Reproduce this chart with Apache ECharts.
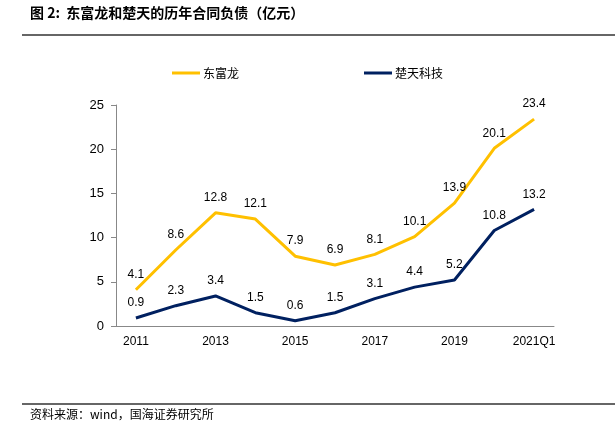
<!DOCTYPE html>
<html><head><meta charset="utf-8">
<script src="https://cdn.jsdelivr.net/npm/echarts@6/dist/echarts.min.js"></script>
<style>html,body{margin:0;padding:0;background:#fff}#c{width:615px;height:434px}</style>
</head><body><div id="c"></div>
<script>
var categories = ['2011','2012','2013','2014','2015','2016','2017','2018','2019','2020','2021Q1'];
var dongfulong = [4.1, 8.6, 12.8, 12.1, 7.9, 6.9, 8.1, 10.1, 13.9, 20.1, 23.4];
var chutian = [0.9, 2.3, 3.4, 1.5, 0.6, 1.5, 3.1, 4.4, 5.2, 10.8, 13.2];
var FONT = '"Liberation Sans", Arial, "Noto Sans CJK SC", sans-serif';
var chart = echarts.init(document.getElementById('c'));
chart.setOption({
  backgroundColor: '#fff',
  animation: false,
  textStyle: {fontFamily: FONT},
  graphic: [
    {type: 'text', left: 30, top: 6, style: {text: '图 2:  东富龙和楚天的历年合同负债（亿元）', font: 'bold 14px "Noto Sans CJK SC", sans-serif', fill: '#000'}},
    {type: 'line', shape: {x1: 22, y1: 35, x2: 615, y2: 35}, style: {stroke: '#333', lineWidth: 1.5}},
    {type: 'line', shape: {x1: 22, y1: 404, x2: 615, y2: 404}, style: {stroke: '#333', lineWidth: 1.5}},
    {type: 'text', left: 30, top: 408, style: {text: '资料来源：wind，国海证券研究所', font: '12px "Noto Sans CJK SC", sans-serif', fill: '#000'}}
  ],
  legend: {
    top: 62, left: 'center', itemGap: 125, itemWidth: 28, itemHeight: 3,
    icon: 'rect',
    textStyle: {fontSize: 12, color: '#000', fontFamily: '"Noto Sans CJK SC", sans-serif', padding: [0,0,0,-2]},
    data: ['东富龙', '楚天科技']
  },
  grid: {left: 116, right: 61, top: 105, bottom: 108},
  xAxis: {
    type: 'category', data: categories, boundaryGap: true,
    axisLine: {lineStyle: {color: '#888'}},
    axisTick: {inside: true, interval: 0, alignWithLabel: false, lineStyle: {color: '#888'}},
    axisLabel: {interval: 1, color: '#000', fontSize: 12, margin: 10}
  },
  yAxis: {
    type: 'value', min: 0, max: 25, interval: 5,
    splitLine: {show: false},
    axisLine: {show: true, lineStyle: {color: '#888'}},
    axisTick: {show: true, lineStyle: {color: '#888'}},
    axisLabel: {color: '#000', fontSize: 13, margin: 12}
  },
  series: [
    {name: '东富龙', type: 'line', data: dongfulong, symbol: 'circle', symbolSize: 0.1, showSymbol: true,
     lineStyle: {width: 3, color: '#FFC000'}, itemStyle: {color: '#FFC000'},
     label: {show: true, position: 'top', distance: 9, color: '#000', fontSize: 12}},
    {name: '楚天科技', type: 'line', data: chutian, symbol: 'circle', symbolSize: 0.1, showSymbol: true,
     lineStyle: {width: 3, color: '#002060'}, itemStyle: {color: '#002060'},
     label: {show: true, position: 'top', distance: 9, color: '#000', fontSize: 12}}
  ]
});
</script></body></html>
